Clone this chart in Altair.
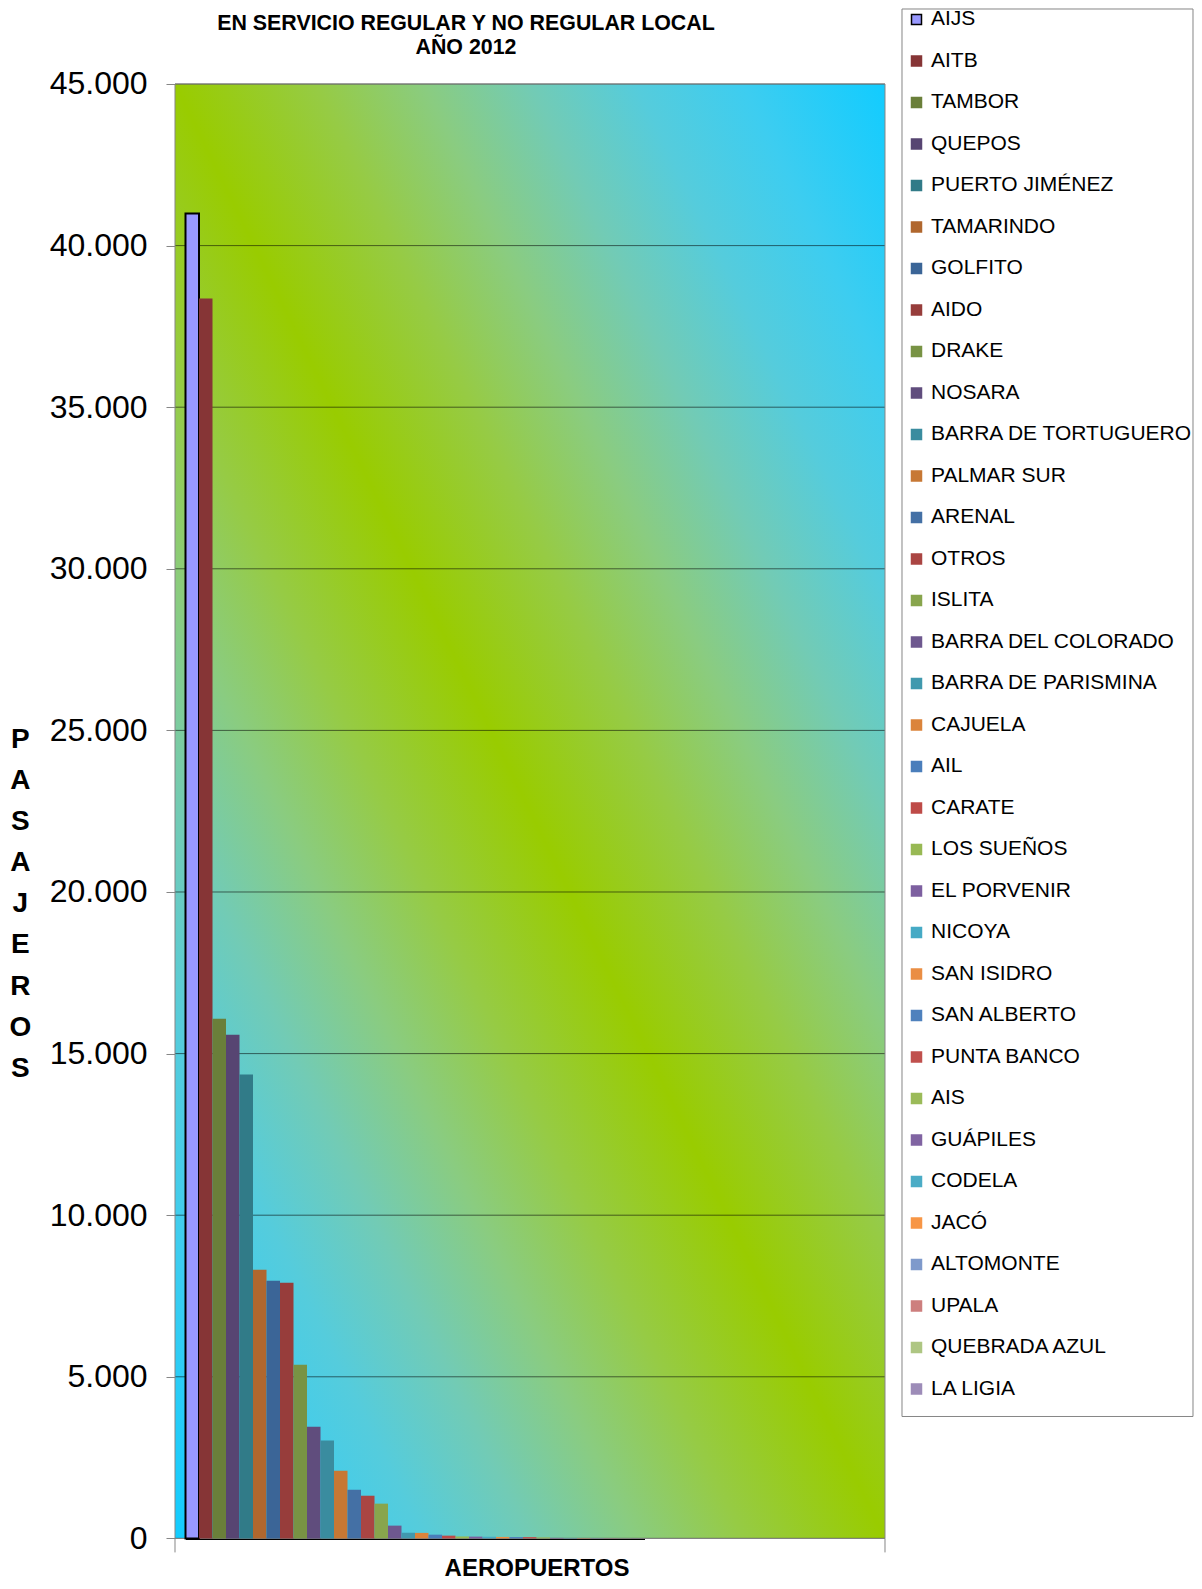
import altair as alt
import pandas as pd

airports = ["AIJS", "AITB", "TAMBOR", "QUEPOS", "PUERTO JIMÉNEZ", "TAMARINDO", "GOLFITO",
            "AIDO", "DRAKE", "NOSARA", "BARRA DE TORTUGUERO", "PALMAR SUR", "ARENAL", "OTROS",
            "ISLITA", "BARRA DEL COLORADO", "BARRA DE PARISMINA", "CAJUELA", "AIL", "CARATE",
            "LOS SUEÑOS", "EL PORVENIR", "NICOYA", "SAN ISIDRO", "SAN ALBERTO", "PUNTA BANCO",
            "AIS", "GUÁPILES", "CODELA", "JACÓ", "ALTOMONTE", "UPALA", "QUEBRADA AZUL", "LA LIGIA"]
passengers = [40990, 38360, 16080, 15585, 14350, 8315, 7975, 7910, 5375, 3455, 3025, 2095,
              1505, 1320, 1075, 395, 175, 170, 115, 85, 60, 55, 50, 45, 42, 40, 30, 15, 10, 8,
              6, 5, 3, 2]
bar_colors = ["#9999FF", "#863536", "#6A7F3A", "#574572", "#317B88", "#B0672E", "#3B6597",
              "#973D3B", "#789344", "#604D7D", "#3A8C9F", "#C77834", "#4470A5", "#AA4543",
              "#88A54D", "#6E588F", "#4199AE", "#DB843B", "#4A7EBB", "#BE4B48", "#98B954",
              "#7D60A0", "#46AAC5", "#EA8E44", "#4F81BD", "#C0504D", "#9BBB59", "#8064A2",
              "#4BACC6", "#F79646", "#7F9ACB", "#CD7F7E", "#AEC683", "#9D8CB8"]
stroke_colors = ["#000000"] + bar_colors[1:]
y_ticks = [0, 5000, 10000, 15000, 20000, 25000, 30000, 35000, 40000, 45000]
title_lines = ["DESTINO DE LOS PASAJEROS TRANSPORTADOS",
               "EN SERVICIO REGULAR Y NO REGULAR LOCAL",
               "AÑO 2012"]
y_title = "PASAJEROS"
x_title = "AEROPUERTOS"

# background gradient (cyan corners, green diagonal)
grad_offsets = [0, 0.1, 0.175, 0.25, 0.325, 0.4, 0.5, 0.6, 0.675, 0.75, 0.825, 0.9, 1]
grad_colors = ["#12CCFF", "#3DCDF0", "#55CCDC", "#72CBB5", "#8ACC80", "#96CB45", "#99CC00",
               "#96CB45", "#8ACC80", "#72CBB5", "#55CCDC", "#3DCDF0", "#12CCFF"]

W, H = 710, 1454.4
BAND_START, STEP = 10.5, 13.5
FONT = "Liberation Sans"

df = pd.DataFrame({"airport": airports, "passengers": passengers})
one = alt.Data(values=[{}])

y_scale = alt.Scale(domain=[0, 45000], nice=False)
y_axis = alt.Axis(values=y_ticks, grid=False, domainColor="#868686", domainWidth=1,
                  tickColor="#868686", tickSize=9, tickWidth=1, labelFont=FONT,
                  labelFontSize=32, labelColor="black", labelPadding=19,
                  labelFlush=False,
                  labelExpr="replace(format(datum.value, ','), ',', '.')",
                  title=None)

bg = alt.Chart(one).mark_rect(
    fill=alt.Gradient(gradient="linear", x1=0, y1=1, x2=1, y2=0,
                      stops=[alt.GradientStop(color=c, offset=o)
                             for o, c in zip(grad_offsets, grad_colors)])
).encode(x=alt.value(0), x2=alt.value(W), y=alt.value(0), y2=alt.value(H))

grid = alt.Chart(pd.DataFrame({"v": y_ticks})).mark_rule(
    color="black", opacity=0.55, strokeWidth=1
).encode(y=alt.Y("v:Q", scale=y_scale, axis=y_axis))

border = alt.Chart(one).mark_rect(
    fillOpacity=0, stroke="#868686", strokeWidth=1
).encode(x=alt.value(0), x2=alt.value(W), y=alt.value(0), y2=alt.value(H))

legend = alt.Legend(title=None, orient="none", legendX=731, legendY=-75,
                    direction="vertical", columns=1, symbolType="square",
                    symbolSize=100, symbolStrokeWidth=1.5, labelFont=FONT,
                    labelFontSize=21, labelColor="black", labelOffset=4,
                    rowPadding=19.5, padding=0, labelLimit=400, zindex=1,
                    symbolOpacity=1, symbolLimit=100)

bars = alt.Chart(df).mark_bar().encode(
    x=alt.X("airport:N", sort=airports,
            scale=alt.Scale(paddingInner=0, paddingOuter=0,
                            range=[BAND_START, BAND_START + STEP * len(airports)]),
            axis=alt.Axis(labels=False, ticks=False, title=None, domainColor="black",
                          domainWidth=2, grid=False)),
    y=alt.Y("passengers:Q", scale=y_scale, axis=y_axis),
    fill=alt.Fill("airport:N", sort=airports,
                  scale=alt.Scale(domain=airports, range=bar_colors), legend=legend),
    stroke=alt.Stroke("airport:N", sort=airports,
                      scale=alt.Scale(domain=airports, range=stroke_colors), legend=legend),
    strokeWidth=alt.condition("datum.airport == 'AIJS'", alt.value(2), alt.value(0)),
)

edge_left = alt.Chart(one).mark_rule(color="#868686", strokeWidth=1).encode(
    x=alt.value(0), y=alt.value(H), y2=alt.value(H + 14))
edge_right = alt.Chart(one).mark_rule(color="#868686", strokeWidth=1).encode(
    x=alt.value(W), y=alt.value(H), y2=alt.value(H + 14))

title = alt.Chart(one).mark_text(
    font=FONT, fontSize=21.4, fontWeight="bold", color="black", align="center",
    baseline="alphabetic", lineHeight=24.3
).encode(x=alt.value(291), y=alt.value(-78.5), text=alt.value(title_lines))

ytitle = alt.Chart(one).mark_text(
    font=FONT, fontSize=28, fontWeight="bold", color="black", align="center",
    baseline="alphabetic", lineHeight=41.1
).encode(x=alt.value(-154.7), y=alt.value(664), text=alt.value(list(y_title)))

xtitle = alt.Chart(one).mark_text(
    font=FONT, fontSize=24, fontWeight="bold", color="black", align="center",
    baseline="alphabetic"
).encode(x=alt.value(362), y=alt.value(1492.5), text=alt.value(x_title))

legend_frame = alt.Chart(one).mark_rect(
    fill="white", stroke="#868686", strokeWidth=1
).encode(x=alt.value(727), x2=alt.value(1018), y=alt.value(-75), y2=alt.value(1332.5))

chart = alt.layer(
    bg, grid, border, bars, edge_left, edge_right, title, ytitle, xtitle, legend_frame
).resolve_scale(y="shared").properties(
    width=W, height=H,
    autosize=alt.AutoSizeParams(type="none"),
    padding={"left": 167, "top": 76, "right": 309, "bottom": 42},
).configure(background="white", font=FONT).configure_view(stroke=None)

chart.save("out.html", embed_options={"renderer": "svg", "actions": False})
